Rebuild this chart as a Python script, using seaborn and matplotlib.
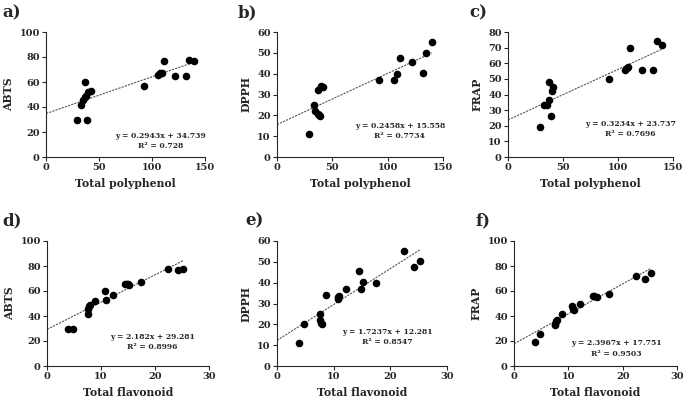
import matplotlib
matplotlib.use("Agg")
import matplotlib.pyplot as plt
import numpy as np
import pandas as pd
import seaborn as sns

# ---- data ----
tp_abts_x = [29, 33, 35, 37, 37, 38, 39, 40, 42, 92, 106, 108, 109, 111, 122, 132, 135, 140]
tp_abts_y = [30, 42, 46, 60, 48, 49, 30, 52, 53, 57, 66, 67, 67, 77, 65, 65, 78, 77]

tp_dpph_x = [29, 33, 34, 37, 37, 38, 39, 40, 42, 92, 106, 108, 111, 122, 132, 135, 140]
tp_dpph_y = [11, 25, 22, 32, 20.5, 20, 19.5, 34, 33.5, 37, 37, 40, 47.5, 45.5, 40.5, 50, 55]

tp_frap_x = [29, 33, 35, 37, 37, 39, 40, 41, 92, 106, 108, 109, 111, 122, 132, 135, 140]
tp_frap_y = [19, 33, 33.5, 48, 36.5, 26, 42.5, 45, 50, 56, 57, 57.5, 70, 56, 55.5, 74.5, 72]

tf_abts_x = [3.8, 4.8, 7.5, 7.5, 7.8, 8, 8.8, 10.7, 11, 12.2, 14.5, 14.8, 15, 15.2, 17.4, 22.4, 24.2, 25.2]
tf_abts_y = [30, 30, 42, 46, 48, 49, 52, 60, 53, 57, 65.5, 66, 66, 65, 67, 77.5, 76.5, 78]

tf_dpph_x = [3.8, 4.8, 7.5, 7.5, 7.8, 8, 8.7, 10.7, 10.8, 11, 12.2, 14.5, 14.8, 15.2, 17.4, 22.5, 24.2, 25.2]
tf_dpph_y = [11, 20, 25, 22, 20.5, 20, 34, 32, 33, 33.5, 37, 45.5, 37, 40.5, 40, 55, 47.5, 50.5]

tf_frap_x = [3.8, 4.8, 7.5, 7.5, 7.8, 8, 8.8, 10.7, 10.8, 11, 12.2, 14.5, 14.8, 15.2, 17.4, 22.4, 24.2, 25.2]
tf_frap_y = [19, 26, 33, 34, 36, 37, 42, 48, 46, 44.5, 50, 56, 56, 55.5, 57.5, 72, 70, 74.5]

slopes = [0.2943, 0.2458, 0.3234, 2.182, 1.7237, 2.3967]
intercepts = [34.739, 15.558, 23.737, 29.281, 12.281, 17.751]
eq_texts = ["y = 0.2943x + 34.739\nR² = 0.728",
            "y = 0.2458x + 15.558\nR² = 0.7734",
            "y = 0.3234x + 23.737\nR² = 0.7696",
            "y = 2.182x + 29.281\nR² = 0.8996",
            "y = 1.7237x + 12.281\nR² = 0.8547",
            "y = 2.3967x + 17.751\nR² = 0.9503"]
panel_labels = ["a)", "b)", "c)", "d)", "e)", "f)"]
y_labels = ["ABTS", "DPPH", "FRAP", "ABTS", "DPPH", "FRAP"]
x_labels = ["Total polyphenol"] * 3 + ["Total flavonoid"] * 3

xs = [tp_abts_x, tp_dpph_x, tp_frap_x, tf_abts_x, tf_dpph_x, tf_frap_x]
ys = [tp_abts_y, tp_dpph_y, tp_frap_y, tf_abts_y, tf_dpph_y, tf_frap_y]

sns.set_style("ticks")
plt.rcParams['font.family'] = ['DejaVu Serif']
plt.rcParams['font.weight'] = 'bold'

W, H = 685, 400
fig = plt.figure(figsize=(6.85, 4.0), dpi=100)

# axes boxes in pixels: left, right, top, bottom
boxes = [(46, 205, 32, 157), (277, 443, 32, 157), (508, 673, 32, 157),
         (47, 209, 241, 366), (277, 447, 241, 366), (514, 677, 241, 366)]
xlims = [150, 150, 150, 30, 30, 30]
xsteps = [50, 50, 50, 10, 10, 10]
ylims = [100, 60, 80, 100, 60, 100]
ysteps = [20, 10, 10, 20, 10, 20]
eq_pos = [(0.72, 0.125), (0.74, 0.205), (0.74, 0.225), (0.65, 0.195), (0.65, 0.235), (0.63, 0.14)]
lab_pos = [(2, 4), (238, 4), (469, 4), (2, 212), (245, 212), (476, 212)]

for i in range(6):
    l, r, t, b = boxes[i]
    ax = fig.add_axes([l / W, 1 - b / H, (r - l) / W, (b - t) / H])
    df = pd.DataFrame({"x": xs[i], "y": ys[i]})
    sns.scatterplot(data=df, x="x", y="y", ax=ax, color="black", s=30,
                    edgecolor="black", linewidth=0, zorder=3, clip_on=False)
    xl = np.array([0, max(xs[i])])
    line = pd.DataFrame({"x": xl, "y": slopes[i] * xl + intercepts[i]})
    sns.lineplot(data=line, x="x", y="y", ax=ax, color="#555555",
                 linewidth=0.8, linestyle=(0, (2, 1)), zorder=2)
    ax.set_xlim(0, xlims[i])
    ax.set_ylim(0, ylims[i])
    ax.set_xticks(np.arange(0, xlims[i] + 1, xsteps[i]))
    ax.set_yticks(np.arange(0, ylims[i] + 1, ysteps[i]))
    ax.tick_params(labelsize=7, length=3, width=0.8, pad=1.5)
    for s in ["left", "bottom"]:
        ax.spines[s].set_linewidth(0.8)
    sns.despine(ax=ax)
    ax.set_xlabel(x_labels[i], fontsize=7.8, fontweight='bold', labelpad=4)
    ax.set_ylabel(y_labels[i], fontsize=7.8, fontweight='bold', labelpad=4)
    ax.text(eq_pos[i][0], eq_pos[i][1], eq_texts[i], transform=ax.transAxes,
            ha='center', va='center', fontsize=5.5, fontweight='bold',
            multialignment='center', linespacing=1.35)
    fig.text(lab_pos[i][0] / W, 1 - lab_pos[i][1] / H, panel_labels[i],
             fontsize=12, fontweight='bold', ha='left', va='top')

fig.savefig("out.png", dpi=100)
